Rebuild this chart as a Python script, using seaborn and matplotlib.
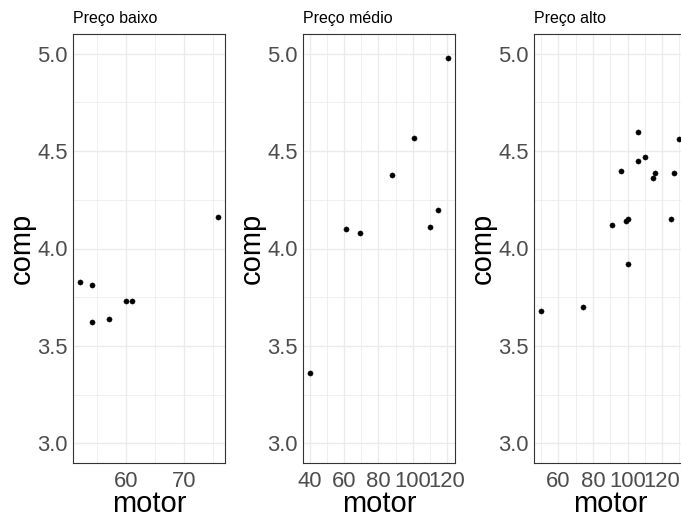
import pandas as pd
import matplotlib
matplotlib.use("Agg")
import matplotlib.pyplot as plt
from matplotlib.ticker import MultipleLocator, FormatStrFormatter
import seaborn as sns

# price groups and panel titles
faixas = ["baixo", "medio", "alto"]
titulos = ["Preço baixo", "Preço médio", "Preço alto"]

# motor / comp values per group
motor_baixo = [52, 54, 54, 57, 60, 61, 76]
comp_baixo = [3.83, 3.81, 3.62, 3.64, 3.73, 3.73, 4.16]

motor_medio = [40, 61, 69, 88, 101, 110, 115, 121]
comp_medio = [3.36, 4.10, 4.08, 4.38, 4.57, 4.11, 4.20, 4.98]

motor_alto = [50, 74, 91, 96, 99, 100, 100, 106, 106, 110, 115, 116, 125, 127, 130]
comp_alto = [3.68, 3.70, 4.12, 4.40, 4.14, 4.15, 3.92, 4.60, 4.45, 4.47, 4.36, 4.39, 4.15, 4.39, 4.56]

df = pd.concat([
    pd.DataFrame({"motor": motor_baixo, "comp": comp_baixo, "faixa": "baixo"}),
    pd.DataFrame({"motor": motor_medio, "comp": comp_medio, "faixa": "medio"}),
    pd.DataFrame({"motor": motor_alto, "comp": comp_alto, "faixa": "alto"}),
], ignore_index=True)

sns.set_style("white")
plt.rcParams["font.family"] = ["Liberation Sans", "DejaVu Sans"]

W, H = 681, 512
fig = plt.figure(figsize=(W / 100, H / 100), dpi=100)

lefts = [73.3, 303.3, 534.3]
major_x = [10, 20, 20]
minor_x = [5, 10, 10]
pw, top, bottom = 152, 34.3, 462.7

for i, f in enumerate(faixas):
    ax = fig.add_axes([lefts[i] / W, (H - bottom) / H, pw / W, (bottom - top) / H])
    sub = df[df["faixa"] == f]
    sns.scatterplot(data=sub, x="motor", y="comp", ax=ax, color="black",
                    s=14, edgecolor="black", linewidth=0.3, zorder=3)
    lo, hi = sub["motor"].min(), sub["motor"].max()
    pad = (hi - lo) * 0.05
    ax.set_xlim(lo - pad, hi + pad)
    ax.set_ylim(2.9, 5.1)
    ax.xaxis.set_major_locator(MultipleLocator(major_x[i]))
    ax.xaxis.set_minor_locator(MultipleLocator(minor_x[i]))
    ax.yaxis.set_major_locator(MultipleLocator(0.5))
    ax.yaxis.set_minor_locator(MultipleLocator(0.25))
    ax.yaxis.set_major_formatter(FormatStrFormatter("%.1f"))
    ax.grid(which="major", color="#EBEBEB", linewidth=1.0)
    ax.grid(which="minor", color="#EBEBEB", linewidth=0.55)
    ax.set_axisbelow(True)
    for sp in ax.spines.values():
        sp.set_color("#333333")
        sp.set_linewidth(0.8)
    ax.tick_params(which="major", length=2.9, width=0.8, color="#333333",
                   labelcolor="#4D4D4D", labelsize=15.8)
    ax.tick_params(which="major", axis="x", pad=3.0)
    ax.tick_params(which="major", axis="y", pad=1.0)
    ax.tick_params(which="minor", length=0)
    ax.set_xlabel("motor", fontsize=21, color="black", labelpad=-1.2)
    ax.set_ylabel("comp", fontsize=21, color="black", labelpad=1.5)
    ax.set_title(titulos[i], loc="left", fontsize=11.5, color="black", pad=8)

fig.savefig("out.png", dpi=100)
